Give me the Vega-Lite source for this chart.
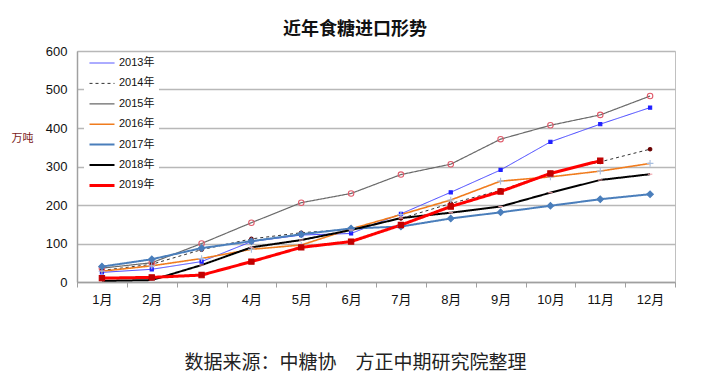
{
  "$schema": "https://vega.github.io/schema/vega-lite/v6.json",
  "autosize": {"type": "none"},
  "width": 598,
  "height": 231,
  "padding": {"left": 77, "top": 51, "right": 35, "bottom": 97},
  "background": "white",
  "title": {"text": "近年食糖进口形势", "font": "Noto Sans CJK SC", "fontSize": 18, "fontWeight": "bold", "color": "#111111", "anchor": "middle", "dx": -21, "offset": 6},
  "data": {"values": [
    {"year": "2013年", "month": "1月", "value": 25}, {"year": "2013年", "month": "2月", "value": 33}, {"year": "2013年", "month": "3月", "value": 53}, {"year": "2013年", "month": "4月", "value": 105}, {"year": "2013年", "month": "5月", "value": 122}, {"year": "2013年", "month": "6月", "value": 126}, {"year": "2013年", "month": "7月", "value": 177}, {"year": "2013年", "month": "8月", "value": 233}, {"year": "2013年", "month": "9月", "value": 291}, {"year": "2013年", "month": "10月", "value": 364}, {"year": "2013年", "month": "11月", "value": 410}, {"year": "2013年", "month": "12月", "value": 453},
    {"year": "2014年", "month": "1月", "value": 30}, {"year": "2014年", "month": "2月", "value": 46}, {"year": "2014年", "month": "3月", "value": 84}, {"year": "2014年", "month": "4月", "value": 112}, {"year": "2014年", "month": "5月", "value": 128}, {"year": "2014年", "month": "6月", "value": 137}, {"year": "2014年", "month": "7月", "value": 165}, {"year": "2014年", "month": "8月", "value": 204}, {"year": "2014年", "month": "9月", "value": 238}, {"year": "2014年", "month": "10月", "value": 283}, {"year": "2014年", "month": "11月", "value": 312}, {"year": "2014年", "month": "12月", "value": 345},
    {"year": "2015年", "month": "1月", "value": 36}, {"year": "2015年", "month": "2月", "value": 50}, {"year": "2015年", "month": "3月", "value": 100}, {"year": "2015年", "month": "4月", "value": 154}, {"year": "2015年", "month": "5月", "value": 206}, {"year": "2015年", "month": "6月", "value": 230}, {"year": "2015年", "month": "7月", "value": 279}, {"year": "2015年", "month": "8月", "value": 306}, {"year": "2015年", "month": "9月", "value": 371}, {"year": "2015年", "month": "10月", "value": 407}, {"year": "2015年", "month": "11月", "value": 434}, {"year": "2015年", "month": "12月", "value": 483},
    {"year": "2016年", "month": "1月", "value": 28}, {"year": "2016年", "month": "2月", "value": 42}, {"year": "2016年", "month": "3月", "value": 61}, {"year": "2016年", "month": "4月", "value": 85}, {"year": "2016年", "month": "5月", "value": 96}, {"year": "2016年", "month": "6月", "value": 138}, {"year": "2016年", "month": "7月", "value": 175}, {"year": "2016年", "month": "8月", "value": 213}, {"year": "2016年", "month": "9月", "value": 262}, {"year": "2016年", "month": "10月", "value": 273}, {"year": "2016年", "month": "11月", "value": 288}, {"year": "2016年", "month": "12月", "value": 308},
    {"year": "2017年", "month": "1月", "value": 40}, {"year": "2017年", "month": "2月", "value": 59}, {"year": "2017年", "month": "3月", "value": 88}, {"year": "2017年", "month": "4月", "value": 106}, {"year": "2017年", "month": "5月", "value": 124}, {"year": "2017年", "month": "6月", "value": 139}, {"year": "2017年", "month": "7月", "value": 144}, {"year": "2017年", "month": "8月", "value": 165}, {"year": "2017年", "month": "9月", "value": 181}, {"year": "2017年", "month": "10月", "value": 198}, {"year": "2017年", "month": "11月", "value": 215}, {"year": "2017年", "month": "12月", "value": 228},
    {"year": "2018年", "month": "1月", "value": 3}, {"year": "2018年", "month": "2月", "value": 5}, {"year": "2018年", "month": "3月", "value": 44}, {"year": "2018年", "month": "4月", "value": 90}, {"year": "2018年", "month": "5月", "value": 109}, {"year": "2018年", "month": "6月", "value": 135}, {"year": "2018年", "month": "7月", "value": 166}, {"year": "2018年", "month": "8月", "value": 180}, {"year": "2018年", "month": "9月", "value": 196}, {"year": "2018年", "month": "10月", "value": 232}, {"year": "2018年", "month": "11月", "value": 265}, {"year": "2018年", "month": "12月", "value": 280},
    {"year": "2019年", "month": "1月", "value": 10}, {"year": "2019年", "month": "2月", "value": 12}, {"year": "2019年", "month": "3月", "value": 18}, {"year": "2019年", "month": "4月", "value": 53}, {"year": "2019年", "month": "5月", "value": 90}, {"year": "2019年", "month": "6月", "value": 105}, {"year": "2019年", "month": "7月", "value": 148}, {"year": "2019年", "month": "8月", "value": 196}, {"year": "2019年", "month": "9月", "value": 235}, {"year": "2019年", "month": "10月", "value": 282}, {"year": "2019年", "month": "11月", "value": 315}
  ]},
  "encoding": {
    "x": {
      "field": "month", "type": "ordinal",
      "sort": ["1月", "2月", "3月", "4月", "5月", "6月", "7月", "8月", "9月", "10月", "11月", "12月"],
      "scale": {"type": "band", "paddingInner": 0, "paddingOuter": 0},
      "axis": {
        "title": "数据来源：中糖协　方正中期研究院整理",
        "titleX": 278, "titleY": 80, "titleAlign": "center", "titleBaseline": "middle",
        "titleFont": "Noto Sans CJK SC", "titleFontSize": 19, "titleFontWeight": "normal", "titleColor": "#222222",
        "labelAngle": 0, "labelFont": "Liberation Sans, Noto Sans CJK SC", "labelFontSize": 13, "labelColor": "#111111", "labelPadding": 6,
        "tickBand": "extent", "ticks": true, "tickColor": "#a0a0a0", "tickSize": 5, "tickWidth": 1,
        "domainColor": "#a0a0a0", "domainWidth": 1.5, "grid": false
      }
    },
    "y": {
      "field": "value", "type": "quantitative",
      "scale": {"domain": [0, 600], "nice": false},
      "axis": {
        "values": [0, 100, 200, 300, 400, 500, 600],
        "title": "万吨", "titleAngle": 0, "titleX": -55, "titleY": 87, "titleAlign": "center", "titleBaseline": "middle",
        "titleFont": "Noto Sans CJK SC", "titleFontSize": 11, "titleFontWeight": "normal", "titleColor": "#7a1a1a",
        "labelFont": "Liberation Sans", "labelFontSize": 13, "labelColor": "#111111", "labelPadding": 10,
        "ticks": false, "domainColor": "#a0a0a0", "domainWidth": 1.5,
        "grid": true, "gridColor": "#b8b8b8", "gridWidth": 1.5
      }
    }
  },
  "layer": [
    {
      "mark": {"type": "line"},
      "encoding": {
        "color": {"field": "year", "type": "nominal", "title": null,
          "scale": {"domain": ["2013年", "2014年", "2015年", "2016年", "2017年", "2018年", "2019年"],
                    "range": ["#4040ff", "#333333", "#6a6a6a", "#f07c1e", "#4a7ebb", "#000000", "#ff0000"]},
          "legend": {
            "orient": "none", "legendX": 7, "legendY": 2, "direction": "vertical",
            "symbolType": "stroke", "symbolSize": 625, "clipHeight": 12,
            "labelFont": "Liberation Sans, Noto Sans CJK SC", "labelFontSize": 11, "labelColor": "#111111", "labelOffset": 3,
            "fillColor": "white", "padding": 4, "rowPadding": 8.4
          }},
        "strokeDash": {"field": "year", "type": "nominal", "title": null,
          "scale": {"domain": ["2013年", "2014年", "2015年", "2016年", "2017年", "2018年", "2019年"],
                    "range": [[1, 0], [3, 3], [1, 0], [1, 0], [1, 0], [1, 0], [1, 0]]}},
        "strokeWidth": {"field": "year", "type": "nominal", "title": null,
          "scale": {"type": "ordinal", "domain": ["2013年", "2014年", "2015年", "2016年", "2017年", "2018年", "2019年"],
                    "range": [1, 1, 1.2, 1.6, 2, 2, 3]}}
      }
    },
    {
      "mark": {"type": "point", "filled": true, "opacity": 1, "strokeWidth": 1.1},
      "encoding": {
        "shape": {"field": "year", "type": "nominal", "legend": null,
          "scale": {"domain": ["2013年", "2014年", "2015年", "2016年", "2017年", "2018年", "2019年"],
                    "range": ["square", "circle", "circle", "M-1,0H1M0,-1V1", "diamond", "M-1,0H1", "square"]}},
        "fill": {"field": "year", "type": "nominal", "legend": null,
          "scale": {"domain": ["2013年", "2014年", "2015年", "2016年", "2017年", "2018年", "2019年"],
                    "range": ["#2020ff", "#6a0000", "transparent", "transparent", "#4a7ebb", "transparent", "#c00000"]}},
        "stroke": {"field": "year", "type": "nominal", "legend": null,
          "scale": {"domain": ["2013年", "2014年", "2015年", "2016年", "2017年", "2018年", "2019年"],
                    "range": ["#2020ff", "#6a0000", "#e05a6a", "#a8bfe0", "#4a7ebb", "#f0a0a8", "#c00000"]}},
        "size": {"field": "year", "type": "nominal", "legend": null,
          "scale": {"type": "ordinal", "domain": ["2013年", "2014年", "2015年", "2016年", "2017年", "2018年", "2019年"],
                    "range": [10, 12, 30, 45, 42, 20, 28]}}
      }
    }
  ],
  "resolve": {"legend": {"shape": "independent", "fill": "independent", "stroke": "independent", "size": "independent"}},
  "config": {
    "view": {"stroke": "#c0c0c0", "strokeWidth": 1}
  }
}
